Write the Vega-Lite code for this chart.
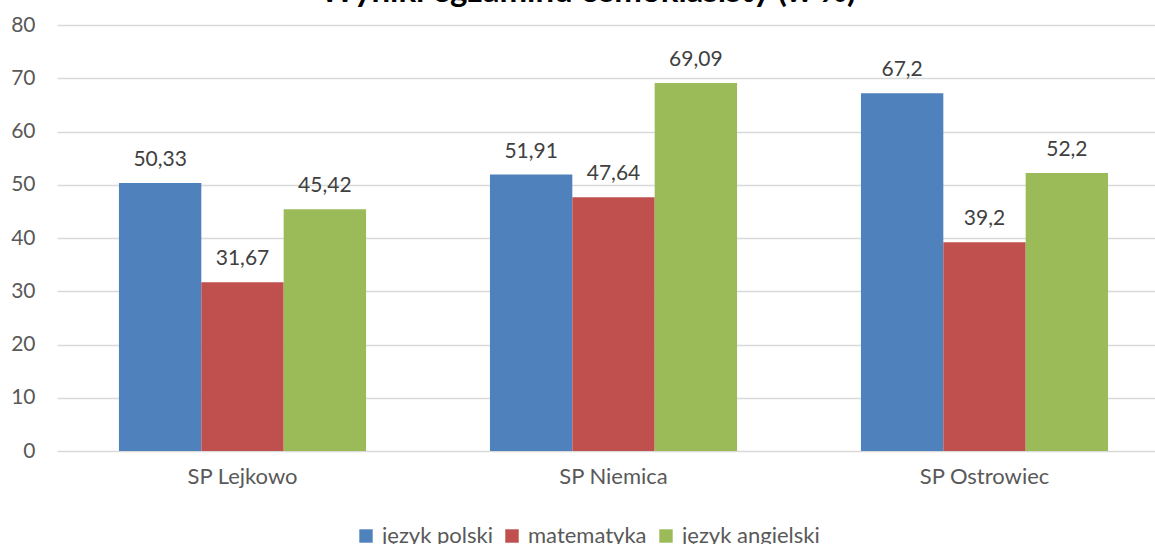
{
  "$schema": "https://vega.github.io/schema/vega-lite/v6.json",
  "autosize": "none",
  "width": 1098,
  "height": 426,
  "padding": {"left": 57, "top": 25, "right": 0, "bottom": 93},
  "background": "white",
  "title": {
    "text": "Wyniki egzaminu ósmoklasisty (w %)",
    "font": "Lato",
    "fontSize": 33,
    "fontWeight": "bold",
    "color": "#000000",
    "anchor": "middle",
    "frame": "group",
    "dx": -18,
    "baseline": "alphabetic",
    "offset": -21
  },
  "config": {
    "locale": {"number": {"decimal": ",", "thousands": " ", "grouping": [3], "currency": ["", " zł"]}},
    "view": {"stroke": null},
    "font": "Lato"
  },
  "data": {
    "values": [
      {"szkola": "SP Lejkowo", "przedmiot": "język polski", "wynik": 50.33},
      {"szkola": "SP Lejkowo", "przedmiot": "matematyka", "wynik": 31.67},
      {"szkola": "SP Lejkowo", "przedmiot": "język angielski", "wynik": 45.42},
      {"szkola": "SP Niemica", "przedmiot": "język polski", "wynik": 51.91},
      {"szkola": "SP Niemica", "przedmiot": "matematyka", "wynik": 47.64},
      {"szkola": "SP Niemica", "przedmiot": "język angielski", "wynik": 69.09},
      {"szkola": "SP Ostrowiec", "przedmiot": "język polski", "wynik": 67.2},
      {"szkola": "SP Ostrowiec", "przedmiot": "matematyka", "wynik": 39.2},
      {"szkola": "SP Ostrowiec", "przedmiot": "język angielski", "wynik": 52.2}
    ]
  },
  "encoding": {
    "x": {
      "field": "szkola",
      "type": "nominal",
      "sort": null,
      "scale": {"range": [0, 1113], "paddingInner": 0.334, "paddingOuter": 0.167},
      "axis": {
        "title": null,
        "labelAngle": 0,
        "labelFontSize": 22,
        "labelColor": "#595959",
        "labelPadding": 15,
        "ticks": false,
        "domain": false
      }
    },
    "xOffset": {
      "field": "przedmiot",
      "type": "nominal",
      "sort": ["język polski", "matematyka", "język angielski"]
    },
    "y": {
      "field": "wynik",
      "type": "quantitative",
      "scale": {"domain": [0, 80]},
      "axis": {
        "title": null,
        "values": [0, 10, 20, 30, 40, 50, 60, 70, 80],
        "labelFontSize": 21,
        "labelColor": "#595959",
        "labelPadding": 22,
        "ticks": false,
        "domain": false,
        "gridColor": "#d9d9d9",
        "gridWidth": 1.3
      }
    }
  },
  "layer": [
    {
      "mark": {"type": "bar"},
      "encoding": {
        "color": {
          "field": "przedmiot",
          "type": "nominal",
          "sort": ["język polski", "matematyka", "język angielski"],
          "scale": {
            "domain": ["język polski", "matematyka", "język angielski"],
            "range": ["#4f81bd", "#c0504d", "#9bbb59"]
          },
          "legend": {
            "title": null,
            "orient": "none",
            "direction": "horizontal",
            "legendX": 298,
            "legendY": 500,
            "symbolType": "square",
            "symbolSize": 180,
            "symbolStrokeWidth": 0,
            "labelFontSize": 22,
            "labelColor": "#595959",
            "labelOffset": 5,
            "columnPadding": 8
          }
        }
      }
    },
    {
      "mark": {"type": "text", "baseline": "alphabetic", "dy": -17, "fontSize": 21, "color": "#404040"},
      "encoding": {
        "text": {"field": "wynik", "type": "quantitative", "format": ".2~f"}
      }
    }
  ]
}
